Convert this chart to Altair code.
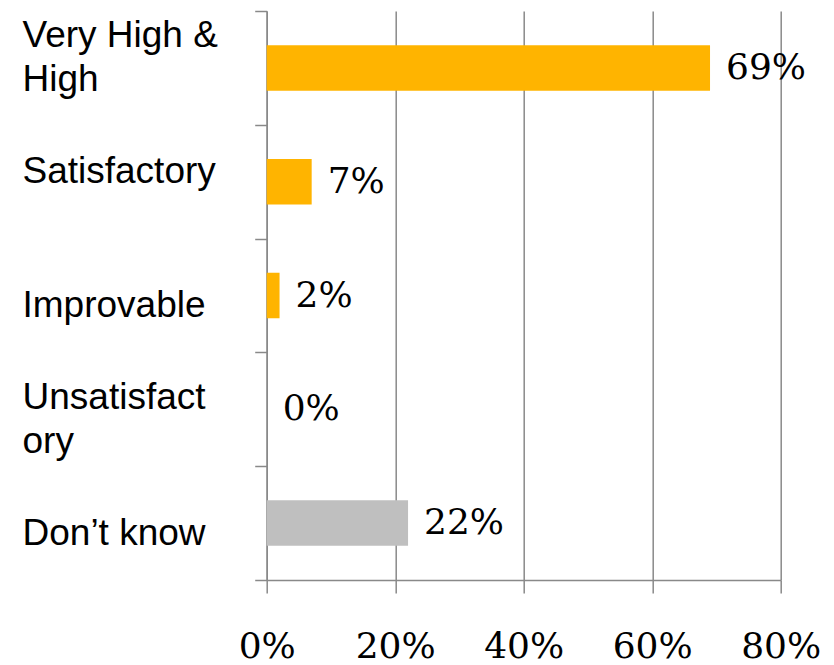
import altair as alt
import pandas as pd

# Survey answers and their shares (percent of respondents)
categories = ["Very High & High", "Satisfactory", "Improvable", "Unsatisfactory", "Don’t know"]
shares = [69, 7, 2, 0, 22]
groups = ["rated", "rated", "rated", "rated", "unknown"]
tick_values = [0, 20, 40, 60, 80]

df = pd.DataFrame({"category": categories, "share": shares, "group": groups})

GRID = "#898989"

wrap_expr = (
    "datum.label == 'Very High & High' ? ['Very High &', 'High'] : "
    "datum.label == 'Unsatisfactory' ? ['Unsatisfact', 'ory'] : datum.label"
)

# vertical nudges of the category labels (wrapped ones are lifted by half a line)
label_offset = {
    "condition": [
        {"test": "datum.value == 'Very High & High'", "value": -32},
        {"test": "datum.value == 'Satisfactory'", "value": -10},
        {"test": "datum.value == 'Unsatisfactory'", "value": -12},
    ],
    "value": 10,
}

y_enc = alt.Y(
    "category:N",
    sort=categories,
    title=None,
    scale=alt.Scale(paddingInner=0, paddingOuter=0),
    axis=alt.Axis(
        domainColor=GRID,
        domainWidth=1.5,
        tickColor=GRID,
        tickWidth=1.5,
        tickSize=12,
        tickBand="extent",
        grid=False,
        labelAlign="left",
        labelBaseline="middle",
        labelPadding=232.7,
        labelFont="Liberation Sans",
        labelFontSize=37,
        labelColor="#000000",
        labelLineHeight=44,
        labelLimit=0,
        labelExpr=wrap_expr,
        labelOffset=label_offset,
    ),
)

x_enc = alt.X(
    "share:Q",
    title=None,
    scale=alt.Scale(domain=[0, 80], nice=False),
    axis=alt.Axis(
        values=tick_values,
        labelExpr="datum.value + '%'",
        grid=True,
        gridColor=GRID,
        gridWidth=1.5,
        domainColor=GRID,
        domainWidth=1.5,
        tickColor=GRID,
        tickWidth=1.5,
        tickSize=13,
        labelFont="DejaVu Serif",
        labelFontSize=36,
        labelColor="#000000",
        labelBaseline="alphabetic",
        labelPadding=64,
        labelFlush=False,
    ),
)

bars = alt.Chart(df).mark_bar(height={"band": 0.4}).encode(
    x=x_enc,
    y=y_enc,
    color=alt.Color(
        "group:N",
        scale=alt.Scale(domain=["rated", "unknown"], range=["#FFB400", "#BFBFBF"]),
        legend=None,
    ),
)

labels = (
    alt.Chart(df)
    .transform_calculate(txt="datum.share + '%'")
    .mark_text(
        align="left",
        baseline="middle",
        dx=16,
        font="DejaVu Serif",
        fontSize=36,
        color="#000000",
    )
    .encode(x="share:Q", y=alt.Y("category:N", sort=categories), text="txt:N")
)

chart = (
    alt.layer(bars, labels)
    .properties(
        width=514,
        height=569,
        padding={"left": 266.7, "top": 11, "right": 53.3, "bottom": 85},
        autosize=alt.AutoSizeParams(type="none"),
        background="#FFFFFF",
    )
    .configure_view(stroke=None)
)

chart.save("out.html", embed_options={"renderer": "svg", "actions": False})
